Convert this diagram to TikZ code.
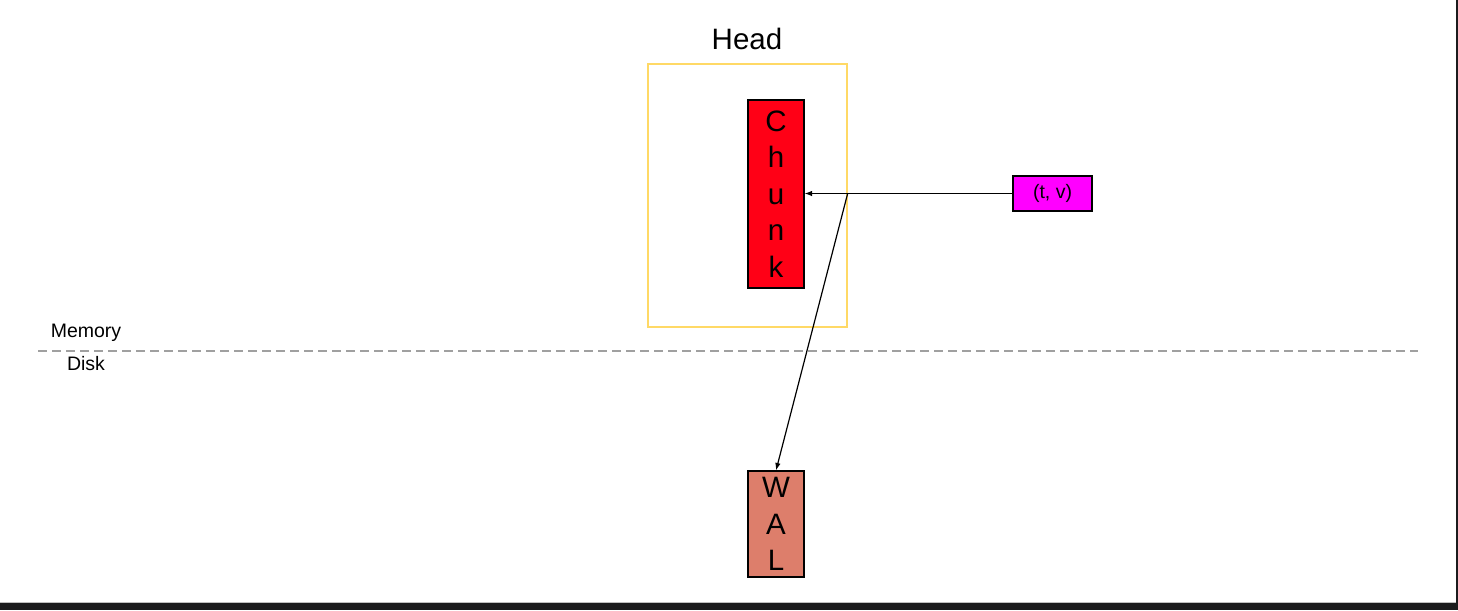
\documentclass[tikz,border=0pt]{standalone}
\usepackage{fontspec}
\setmainfont{Liberation Sans}
\usetikzlibrary{arrows.meta}
\definecolor{headyellow}{HTML}{FFD966}
\definecolor{chunkred}{HTML}{FF0016}
\definecolor{walred}{HTML}{DD7E6B}
\definecolor{tvmag}{HTML}{FF00FF}
\definecolor{dashgray}{HTML}{A0A0A0}
\definecolor{frameblack}{HTML}{1B1B1D}
\begin{document}
\begin{tikzpicture}[x=1pt,y=-1pt,
  box/.style={draw=black, line width=1.1pt, inner sep=0pt, align=center},
  tall/.style={box, minimum width=56pt, font=\fontsize{29.5}{36.5}\selectfont},
  arrow/.style={draw=black, line width=1.2pt, -{Latex[length=7.5pt,width=5.5pt]}},
  small/.style={font=\fontsize{19.5}{23}\selectfont, inner sep=0pt}]
\useasboundingbox (0,0) rectangle (1458,610);
\fill[white] (0,0) rectangle (1458,610);
% frame bands
\fill[frameblack] (0,603) rectangle (1458,610);
\fill[frameblack] (1456,0) rectangle (1458,610);
\draw[black!25, line width=0.8pt] (0,602.2) -- (1456,602.2);
% head container
\node[draw=headyellow, line width=1.3pt, minimum width=199pt, minimum height=263pt, inner sep=0pt] (head) at (747.5,195.5) {};
\node[font=\fontsize{29.5}{34}\selectfont, anchor=base, inner sep=0pt] (headlabel) at (747,50) {Head};
% chunk
\node[tall, fill=chunkred, minimum height=188pt] (chunk) at (776,194) {C\\h\\u\\n\\k};
% tuple
\node[box, fill=tvmag, minimum width=79pt, minimum height=35pt, font=\fontsize{19.5}{23}\selectfont] (tv) at (1052.5,193.5) {(t, v)};
% WAL
\node[tall, fill=walred, minimum height=106pt] (wal) at (776,524) {W\\A\\L};
% separator
\coordinate (dl) at (38,351);
\coordinate (dr) at (1418,351);
\draw[dashgray, line width=1.3pt, dash pattern=on 9pt off 5pt] (dl) -- (dr);
\node[small] (mem) at (86,333) {Memory};
\node[small] (disk) at (86,364) {Disk};
% connectors
\draw[arrow] (tv.west) -- (chunk.east |- tv.west);
\coordinate (split) at (head.east |- tv.west);
\draw[arrow] (split) -- (wal.north);
\end{tikzpicture}
\end{document}
